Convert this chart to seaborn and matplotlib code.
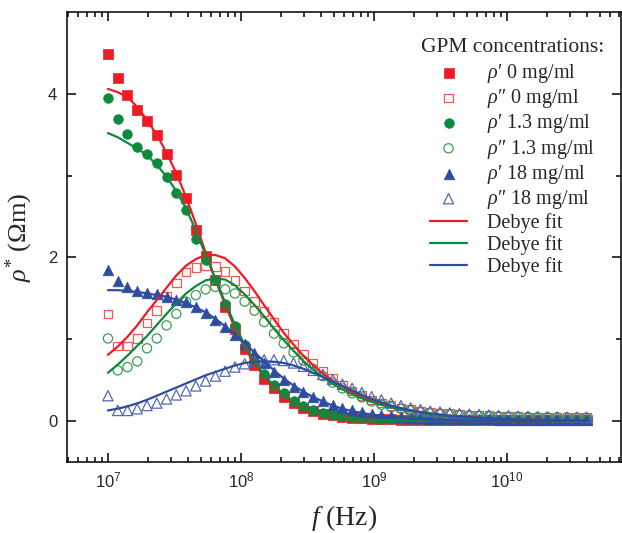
import numpy as np
import pandas as pd
import matplotlib
matplotlib.use("Agg")
import matplotlib.pyplot as plt
import seaborn as sns
from matplotlib.ticker import LogLocator, NullFormatter, FixedLocator

# frequency sweep (Hz), 50 log-spaced points from 1e7 to 4e10
freq = np.logspace(7, 10.6, 50)

# measured rho' / rho'' (Ohm m)
red_re = [4.49, 4.19, 3.98, 3.80, 3.67, 3.50, 3.27, 3.01, 2.73, 2.34,
          2.02, 1.72, 1.40, 1.12, 0.88, 0.68, 0.52, 0.40, 0.30, 0.22,
          0.16, 0.12, 0.09, 0.07, 0.05, 0.04, 0.035, 0.03, 0.025, 0.02,
          0.018, 0.016, 0.015, 0.014, 0.013, 0.012, 0.012, 0.011, 0.011, 0.01,
          0.01, 0.01, 0.01, 0.01, 0.01, 0.01, 0.01, 0.01, 0.01, 0.01]
red_im = [1.31, 0.92, 0.92, 1.01, 1.20, 1.35, 1.53, 1.69, 1.82, 1.88,
          1.90, 1.89, 1.83, 1.72, 1.59, 1.46, 1.34, 1.21, 1.07, 0.94,
          0.82, 0.71, 0.61, 0.52, 0.44, 0.37, 0.31, 0.26, 0.22, 0.19,
          0.16, 0.14, 0.12, 0.11, 0.10, 0.09, 0.08, 0.075, 0.07, 0.065,
          0.06, 0.058, 0.055, 0.052, 0.05, 0.048, 0.046, 0.045, 0.044, 0.043]
green_re = [3.95, 3.69, 3.51, 3.35, 3.27, 3.15, 2.98, 2.79, 2.58, 2.23,
            1.97, 1.72, 1.43, 1.16, 0.93, 0.74, 0.57, 0.44, 0.34, 0.25,
            0.18, 0.13, 0.10, 0.08, 0.06, 0.05, 0.04, 0.035, 0.03, 0.025,
            0.022, 0.02, 0.02, 0.018, 0.017, 0.016, 0.015, 0.015, 0.014, 0.014,
            0.013, 0.013, 0.012, 0.012, 0.012, 0.011, 0.011, 0.011, 0.01, 0.01]
green_im = [1.01, 0.62, 0.66, 0.73, 0.89, 1.01, 1.17, 1.31, 1.46, 1.54,
            1.61, 1.64, 1.61, 1.56, 1.46, 1.35, 1.21, 1.07, 0.95, 0.84,
            0.74, 0.64, 0.55, 0.47, 0.40, 0.34, 0.29, 0.24, 0.20, 0.17,
            0.15, 0.13, 0.11, 0.10, 0.09, 0.08, 0.075, 0.07, 0.065, 0.06,
            0.057, 0.054, 0.052, 0.05, 0.048, 0.046, 0.045, 0.044, 0.043, 0.042]
blue_re = [1.85, 1.71, 1.64, 1.59, 1.57, 1.55, 1.52, 1.48, 1.45, 1.40,
           1.32, 1.24, 1.15, 1.05, 0.94, 0.83, 0.71, 0.60, 0.50, 0.42,
           0.35, 0.29, 0.24, 0.20, 0.16, 0.13, 0.11, 0.09, 0.07, 0.06,
           0.05, 0.04, 0.035, 0.03, 0.028, 0.026, 0.024, 0.022, 0.02, 0.02,
           0.019, 0.018, 0.018, 0.017, 0.017, 0.016, 0.016, 0.015, 0.015, 0.015]
blue_im = [0.31, 0.13, 0.13, 0.15, 0.19, 0.22, 0.27, 0.32, 0.37, 0.43,
           0.49, 0.55, 0.61, 0.66, 0.70, 0.73, 0.75, 0.75, 0.74, 0.71,
           0.67, 0.62, 0.57, 0.51, 0.45, 0.40, 0.35, 0.30, 0.26, 0.22,
           0.19, 0.16, 0.14, 0.12, 0.11, 0.10, 0.09, 0.085, 0.08, 0.075,
           0.07, 0.065, 0.06, 0.058, 0.055, 0.052, 0.05, 0.048, 0.046, 0.045]

# Debye fit curves read at the same frequencies
red_re_fit = [4.06, 4.02, 3.96, 3.84, 3.68, 3.50, 3.28, 3.03, 2.74, 2.41,
              2.06, 1.73, 1.42, 1.14, 0.90, 0.70, 0.54, 0.41, 0.31, 0.23,
              0.17, 0.125, 0.09, 0.067, 0.05, 0.035, 0.025, 0.018, 0.012, 0.009,
              0.006, 0.004, 0.003, 0.002, 0.002, 0.001, 0.001, 0.001, 0.001, 0.001,
              0, 0, 0, 0, 0, 0, 0, 0, 0, 0]
red_im_fit = [0.81, 0.91, 1.03, 1.17, 1.33, 1.48, 1.63, 1.78, 1.90, 1.98,
              2.03, 2.03, 1.99, 1.89, 1.75, 1.59, 1.415, 1.245, 1.08, 0.935,
              0.80, 0.685, 0.58, 0.495, 0.42, 0.355, 0.30, 0.255, 0.216, 0.183,
              0.154, 0.130, 0.110, 0.093, 0.078, 0.066, 0.056, 0.047, 0.040, 0.033,
              0.028, 0.024, 0.020, 0.017, 0.014, 0.012, 0.010, 0.008, 0.007, 0.006]
green_re_fit = [3.52, 3.47, 3.40, 3.33, 3.25, 3.13, 2.99, 2.81, 2.60, 2.33,
                2.03, 1.74, 1.45, 1.18, 0.93, 0.73, 0.56, 0.43, 0.32, 0.235,
                0.17, 0.125, 0.09, 0.065, 0.045, 0.032, 0.022, 0.016, 0.011, 0.008,
                0.006, 0.004, 0.003, 0.002, 0.002, 0.001, 0.001, 0.001, 0.001, 0.001,
                0, 0, 0, 0, 0, 0, 0, 0, 0, 0]
green_im_fit = [0.59, 0.69, 0.80, 0.92, 1.04, 1.175, 1.31, 1.44, 1.56, 1.65,
                1.72, 1.745, 1.73, 1.66, 1.55, 1.42, 1.28, 1.13, 0.99, 0.86,
                0.735, 0.63, 0.536, 0.457, 0.387, 0.328, 0.278, 0.235, 0.199, 0.168,
                0.142, 0.120, 0.101, 0.085, 0.072, 0.061, 0.051, 0.043, 0.037, 0.031,
                0.026, 0.022, 0.019, 0.016, 0.013, 0.011, 0.009, 0.008, 0.007, 0.006]
blue_re_fit = [1.60, 1.60, 1.59, 1.58, 1.56, 1.54, 1.52, 1.485, 1.44, 1.39,
               1.33, 1.25, 1.16, 1.06, 0.95, 0.84, 0.73, 0.62, 0.52, 0.435,
               0.36, 0.295, 0.24, 0.19, 0.15, 0.122, 0.10, 0.078, 0.06, 0.049,
               0.04, 0.031, 0.025, 0.019, 0.015, 0.012, 0.01, 0.008, 0.007, 0.006,
               0.005, 0.004, 0.003, 0.003, 0.002, 0.002, 0.001, 0.001, 0.001, 0.001]
blue_im_fit = [0.13, 0.152, 0.18, 0.217, 0.26, 0.31, 0.36, 0.41, 0.46, 0.51,
               0.56, 0.60, 0.64, 0.68, 0.71, 0.725, 0.73, 0.725, 0.71, 0.68,
               0.64, 0.59, 0.54, 0.485, 0.43, 0.375, 0.32, 0.27, 0.23, 0.19,
               0.16, 0.133, 0.11, 0.094, 0.08, 0.066, 0.055, 0.047, 0.04, 0.034,
               0.03, 0.025, 0.02, 0.017, 0.015, 0.012, 0.01, 0.009, 0.008, 0.007]

labels = ["$\\rho$\u2032 0 mg/ml", "$\\rho$\u2033 0 mg/ml", "$\\rho$\u2032 1.3 mg/ml",
          "$\\rho$\u2033 1.3 mg/ml", "$\\rho$\u2032 18 mg/ml", "$\\rho$\u2033 18 mg/ml"]

RED, GREEN, BLUE = "#ED1C24", "#0B8A3E", "#2E4DA0"
RED_L, GREEN_L, BLUE_L = "#F05A50", "#3E9C55", "#5467B3"

sns.set_style("ticks")
plt.rcParams["font.family"] = ["Liberation Serif", "DejaVu Serif"]
plt.rcParams["mathtext.fontset"] = "custom"
plt.rcParams["mathtext.rm"] = "Liberation Serif"
plt.rcParams["mathtext.it"] = "Liberation Serif:italic"
plt.rcParams["mathtext.sf"] = "Liberation Sans"

fig = plt.figure(figsize=(6.22, 5.33), dpi=100)
ax = fig.add_axes([0.1077, 0.1332, 0.8908, 0.8443])

df = pd.DataFrame({"f": freq, "rr": red_re, "ri": red_im, "gr": green_re,
                   "gi": green_im, "br": blue_re, "bi": blue_im})
dfit = pd.DataFrame({"f": freq, "rr": red_re_fit, "ri": red_im_fit, "gr": green_re_fit,
                     "gi": green_im_fit, "br": blue_re_fit, "bi": blue_im_fit})

# markers
sns.scatterplot(data=df, x="f", y="rr", marker="s", s=42, color=RED, edgecolor=RED,
                linewidth=0.5, label=labels[0], ax=ax)
sns.scatterplot(data=df, x="f", y="ri", marker="s", s=38, facecolors="none", edgecolor=RED_L,
                linewidth=0.9, label=labels[1], ax=ax)
sns.scatterplot(data=df, x="f", y="gr", marker="o", s=48, color=GREEN, edgecolor=GREEN,
                linewidth=0.5, label=labels[2], ax=ax)
sns.scatterplot(data=df, x="f", y="gi", marker="o", s=44, facecolors="none", edgecolor=GREEN_L,
                linewidth=0.9, label=labels[3], ax=ax)
sns.scatterplot(data=df, x="f", y="br", marker="^", s=58, color=BLUE, edgecolor=BLUE,
                linewidth=0.5, label=labels[4], ax=ax)
sns.scatterplot(data=df, x="f", y="bi", marker="^", s=54, facecolors="none", edgecolor=BLUE_L,
                linewidth=0.9, label=labels[5], ax=ax)

# fit lines
for col, c in [("rr", RED), ("ri", RED), ("gr", GREEN), ("gi", GREEN), ("br", BLUE), ("bi", BLUE)]:
    sns.lineplot(data=dfit, x="f", y=col, color=c, lw=1.6, ax=ax)

ax.set_xscale("log")
ax.set_xlim(10 ** 6.692, 10 ** 10.86)
ax.set_ylim(-0.5, 5.0)

ax.set_xticks([1e7, 1e8, 1e9, 1e10],
              [r"$\mathsf{10^{7}}$", r"$\mathsf{10^{8}}$", r"$\mathsf{10^{9}}$", r"$\mathsf{10^{10}}$"])
ax.xaxis.set_minor_locator(LogLocator(base=10, subs=np.arange(2, 10), numticks=20))
ax.xaxis.set_minor_formatter(NullFormatter())
ax.set_yticks([0, 2, 4], ["0", "2", "4"], fontfamily="Liberation Sans")
ax.yaxis.set_minor_locator(FixedLocator([1, 3]))
ax.tick_params(which="both", direction="in", top=True, right=True, labelsize=12,
               width=1.1, color="black")
ax.tick_params(which="major", length=6.5, pad=7)
ax.tick_params(which="minor", length=3.5)
for sp in ax.spines.values():
    sp.set_linewidth(1.1)
    sp.set_color("black")

ax.set_xlabel(r"$f$ (Hz)", fontsize=20, labelpad=8)
ax.set_ylabel(r"$\rho^{*}$ (Ωm)", fontsize=19, labelpad=9)

# legend: title as text, six marker entries followed by three fit lines
ax.text(0.805, 0.920, "GPM concentrations:", transform=ax.transAxes,
        ha="center", va="center", fontsize=15.5)
leg_labels = labels + ["Debye fit"] * 3
handles = list(ax.collections[:6]) + [ax.lines[0], ax.lines[2], ax.lines[4]]
ax.legend(handles, leg_labels, loc="upper left", bbox_to_anchor=(0.655, 0.889),
          frameon=False, fontsize=14.5, handlelength=1.85, handletextpad=1.0,
          labelspacing=0.11, borderpad=0, borderaxespad=0, scatterpoints=1)

fig.savefig("out.png", dpi=100)
